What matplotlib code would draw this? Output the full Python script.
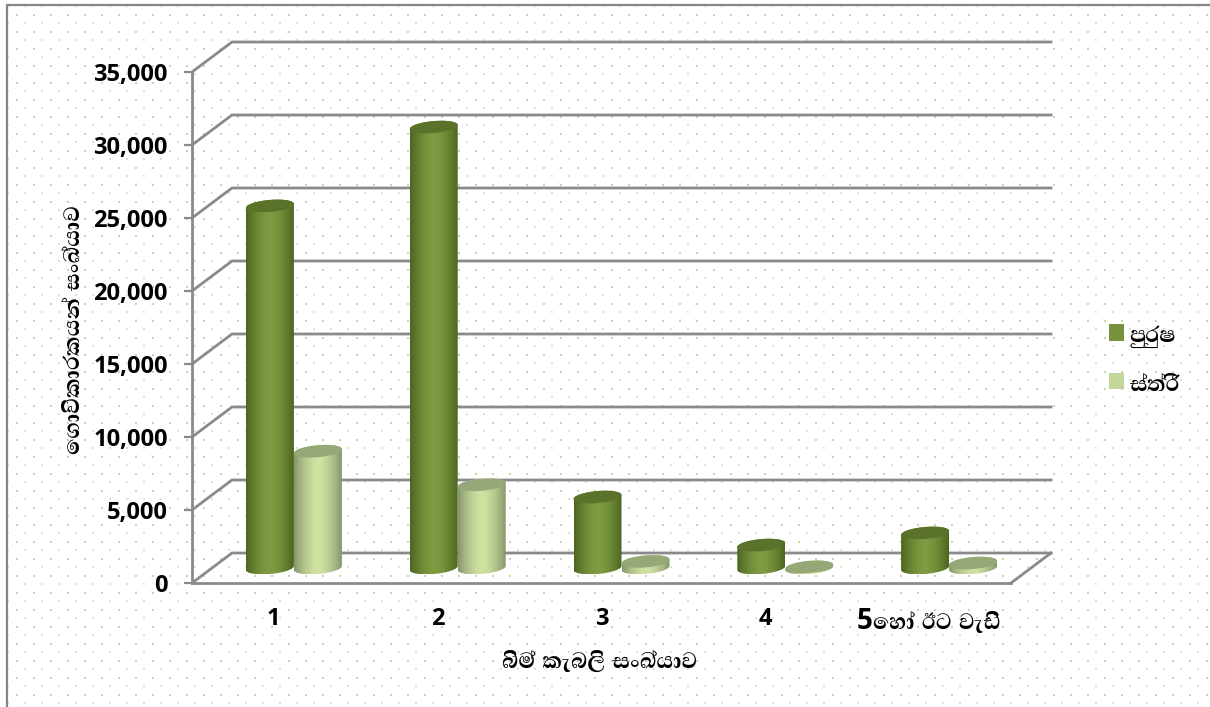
import re
import numpy as np
import matplotlib
matplotlib.use('Agg')
import matplotlib.pyplot as plt
from matplotlib.patches import Patch, PathPatch, Polygon
from matplotlib.path import Path
from matplotlib.colors import to_rgb
from matplotlib import font_manager, ft2font

categories = ['1', '2', '3', '4', '5හෝ ඊට වැඩි']
male = [24800, 30200, 4860, 1570, 2400]
female = [8000, 5700, 450, 80, 340]
y_ticks = [0, 5000, 10000, 15000, 20000, 25000, 30000, 35000]
y_title = 'ගොවිකාරකයන් සංඛ්‍යාව'
x_title = 'බිම් කැබලි සංඛ්‍යාව'
legend_labels = ['පුරුෂ', 'ස්ත්‍රී']

# latin digits first, whichever font has Sinhala takes the rest
sinhala_fonts = []
for f in font_manager.fontManager.ttflist:
    try:
        if ft2font.FT2Font(f.fname).get_char_index(0x0DC3):
            sinhala_fonts.append(f.name)
    except Exception:
        pass
sinhala_fonts = sorted(set(sinhala_fonts))
plt.rcParams['font.family'] = ['Open Sans'] + sinhala_fonts + ['DejaVu Sans']


def visual(text):
    # matplotlib does no shaping, so split-vowels have to go round the consonant by hand
    text = re.sub('(.)ෝ', 'ෙ\\1ා්', text)
    text = re.sub('(.)ො', 'ෙ\\1ා', text)
    return text.replace('\u200d', '')


W, H = 1210, 707
GREY = '#8a8a8a'
DEPTH_X = 40 / 163.8
DEPTH_Y = 30 / 0.0146
BAR_W = 0.293
ELL_B = 6 / 0.0146
TILT = 2 / 0.0146

fig = plt.figure(figsize=(W / 100, H / 100), dpi=100, facecolor='white')

# dotted page background and frame
bg = fig.add_axes([0, 0, 1, 1], zorder=0)
bg.set_xlim(0, W)
bg.set_ylim(H, 0)
bg.axis('off')
rows = np.arange(6, H, 8.5)
for i, yy in enumerate(rows):
    xs = np.arange(16.7 if i % 2 else 8.3, W, 17)
    bg.scatter(xs, np.full_like(xs, yy), s=3.4, marker='s', linewidths=0,
               color='#c6d9a0' if i % 2 else '#dbe7c4')
bg.plot([7, 7, W], [H, 5, 5], color='#868686', lw=1.6, solid_joinstyle='miter')

ax = fig.add_axes([192 / W, (H - 583) / H, 819 / W, 511 / H], zorder=1)
ax.patch.set_alpha(0)
ax.set_xlim(0, 5)
ax.set_ylim(0, 35000)


def cylinder(xc, value, side, mid, top):
    # bar stands half way into the floor depth
    cx = xc + DEPTH_X / 2
    base = DEPTH_Y / 2
    a = BAR_W / 2
    t = np.linspace(0, 2 * np.pi, 80)
    ex, ey = cx + a * np.cos(t), ELL_B * np.sin(t) + TILT * np.cos(t)
    low = np.linspace(np.pi, 2 * np.pi, 40)
    high = np.linspace(0, np.pi, 40)
    px = np.r_[cx + a * np.cos(low), cx + a * np.cos(high)]
    py = np.r_[base + ELL_B * np.sin(low) + TILT * np.cos(low),
               base + value + ELL_B * np.sin(high) + TILT * np.cos(high)]
    clip = PathPatch(Path(np.c_[px, py]), fc='none', ec='none', transform=ax.transData)
    ax.add_patch(clip)
    u = np.abs(np.linspace(-1, 1, 64)) ** 1.6
    grad = np.array([[np.array(to_rgb(mid)) * (1 - v) + np.array(to_rgb(side)) * v for v in u]])
    im = ax.imshow(grad, extent=[cx - a, cx + a, py.min(), py.max()], aspect='auto', zorder=3)
    im.set_clip_path(clip)
    ax.add_patch(Polygon(np.c_[ex, base + value + ey], closed=True, fc=top, ec='none', zorder=4))


ax.set_autoscale_on(False)
for i in range(len(categories)):
    xc = i + 0.5
    cylinder(xc - BAR_W / 2, male[i], '#4c6620', '#7f9c42', '#5a7229')
    cylinder(xc + BAR_W / 2, female[i], '#87966c', '#d0e2a2', '#97a878')

# back wall and side wall lines
for v in y_ticks:
    ax.plot([0, DEPTH_X, 5 + DEPTH_X], [v, v + DEPTH_Y, v + DEPTH_Y], color=GREY, lw=2,
            clip_on=False, zorder=2, solid_joinstyle='miter')
ax.plot([5, 5 + DEPTH_X], [0, DEPTH_Y], color=GREY, lw=2, clip_on=False, zorder=2)

ax.set_xlim(0, 5)
ax.set_ylim(0, 35000)
for s in ['top', 'right']:
    ax.spines[s].set_visible(False)
for s in ['left', 'bottom']:
    ax.spines[s].set_color(GREY)
    ax.spines[s].set_linewidth(2)
ax.set_yticks(y_ticks)
ax.set_yticklabels([f'{v:,}' for v in y_ticks], fontsize=17, fontweight='bold')
ax.set_xticks(np.arange(len(categories)) + 0.5)
ax.set_xticklabels([visual(c) for c in categories], fontsize=17, fontweight='bold')
ax.get_xticklabels()[-1].set_fontsize(20)
ax.tick_params(axis='y', length=5.5, width=1.6, color=GREY, pad=12)
ax.tick_params(axis='x', length=0, pad=17)

fig.text(72 / W, 1 - 330 / H, visual(y_title), rotation=90, ha='center', va='center',
         fontsize=20, fontweight='bold')
fig.text(600 / W, 1 - 660 / H, visual(x_title), ha='center', va='center',
         fontsize=20, fontweight='bold')

handles = [Patch(fc='#76923C', ec='none'), Patch(fc='#C2D69B', ec='none')]
fig.legend(handles, [visual(t) for t in legend_labels], loc='center left',
           bbox_to_anchor=(1084 / W, 1 - 359 / H), frameon=False,
           prop={'size': 20, 'weight': 'bold'}, handlelength=0.54, handleheight=0.54,
           handletextpad=0.2, labelspacing=0.7)

fig.savefig('out.png', dpi=100)
